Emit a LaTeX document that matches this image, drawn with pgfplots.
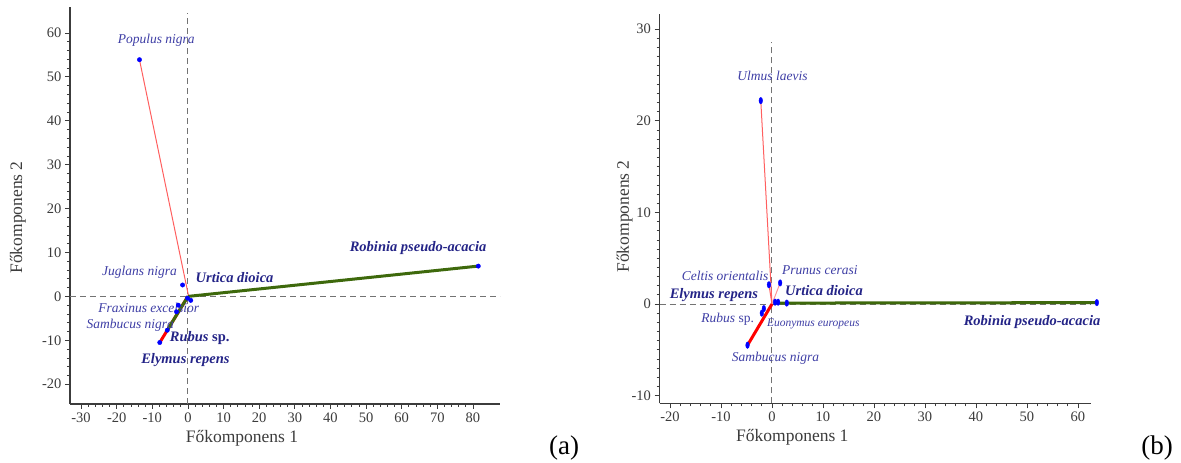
\documentclass[border=0pt]{standalone}
\usepackage{fontspec}
\setmainfont{Liberation Serif}
\usepackage{pgfplots}
\pgfplotsset{compat=1.18}
\definecolor{lbl}{RGB}{62,62,165}
\definecolor{lblb}{RGB}{36,36,135}
\definecolor{thinred}{RGB}{255,95,95}
\definecolor{pinkred}{RGB}{255,150,150}
\definecolor{grn}{RGB}{62,105,12}
\definecolor{axc}{RGB}{60,60,60}
\definecolor{dashc}{RGB}{115,115,115}
\pgfplotsset{
  pca/.style={
    scale only axis, clip=false,
    axis x line=bottom, axis y line=left,
    axis line style={-, draw=axc, line width=1.3pt},
    tick align=outside,
    major tick length=5pt, minor tick length=3pt,
    every tick/.style={axc, line width=0.7pt},
    tick label style={font=\fontsize{14.5}{16}\selectfont, text=axc},
    /pgf/number format/assume math mode=true,
    label style={font=\fontsize{17.5}{19}\selectfont, text=axc},
  },
  dsh/.style={dashc, line width=1pt, dash pattern=on 6pt off 4pt, forget plot},
}
\tikzset{
  lab/.style={font=\fontsize{13.5}{15}\selectfont\itshape, text=lbl, inner sep=0pt},
  labb/.style={font=\fontsize{14.5}{16}\selectfont\bfseries\itshape, text=lblb, inner sep=0pt},
}
\begin{document}
\begin{tikzpicture}[x=1pt,y=1pt]
\path[use as bounding box] (0,0) rectangle (1181,463);
% ---------------- (a) ----------------
\begin{axis}[pca,
  at={(70pt,59pt)}, anchor=south west,
  width=430pt, height=397pt,
  xmin=-33.1, xmax=87.6, ymin=-24.5, ymax=65.9,
  xtick={-30,-20,...,80}, ytick={-20,-10,...,60},
  minor x tick num=4, minor y tick num=4,
  xlabel={Főkomponens 1}, ylabel={Főkomponens 2},
  xlabel style={at={(axis description cs:0.40,-0.086)}, anchor=center},
  ylabel style={at={(axis description cs:-0.121,0.47)}, anchor=center},
]
\addplot[dsh] coordinates {(0,-24.5) (0,64.6)};
\addplot[dsh] coordinates {(-33.1,0) (87.6,0)};
\addplot[thinred, line width=1pt] coordinates {(0.2,0) (-13.6,53.9)};
\addplot[red, line width=3pt] coordinates {(0,0) (-7.9,-10.5)};
\addplot[grn, line width=3pt] coordinates {(0,0) (-5.8,-7.7)};
\addplot[grn, line width=3pt] coordinates {(0,0) (81.5,6.9)};
\addplot[only marks, mark=*, blue, mark size=2.2pt] coordinates {
 (-13.6,53.9) (-1.5,2.6) (81.5,6.9) (0.8,-0.9) (-0.1,-0.4)
 (-2.7,-2.0) (-3.2,-3.5) (-5.8,-7.7) (-7.9,-10.5)};
\node[lab] at (axis cs:-8.9,58.3) {Populus nigra};
\node[lab] at (axis cs:-13.6,5.5) {Juglans nigra};
\node[labb] at (axis cs:13.1,4.4) {Urtica dioica};
\node[labb] at (axis cs:64.6,11.1) {Robinia pseudo-acacia};
\node[lab] at (axis cs:-11.0,-2.7) {Fraxinus excelsior};
\node[lab] at (axis cs:-16.2,-6.6) {Sambucus nigra};
\node[labb] at (axis cs:3.3,-9.4) {Rubus \upshape sp.};
\node[labb] at (axis cs:-0.7,-14.6) {Elymus repens};
\end{axis}
% ---------------- (b) ----------------
\begin{axis}[pca,
  at={(659.5pt,59.7pt)}, anchor=south west,
  width=431.2pt, height=389.3pt,
  xmin=-22.06, xmax=62.5, ymin=-10.84, ymax=31.66,
  xtick={-20,-10,...,60}, ytick={-10,0,...,30},
  minor x tick num=4, minor y tick num=9,
  xlabel={Főkomponens 1}, ylabel={Főkomponens 2},
  xlabel style={at={(axis description cs:0.308,-0.087)}, anchor=center},
  ylabel style={at={(axis description cs:-0.081,0.48)}, anchor=center},
]
\addplot[dsh] coordinates {(0,-10.84) (0,28.6)};
\addplot[dsh] coordinates {(-22.06,0) (62.5,0)};
\addplot[thinred, line width=1pt] coordinates {(0,0) (-2.2,22.2)};
\addplot[thinred, line width=1pt] coordinates {(0,0) (-0.6,2.1)};
\addplot[pinkred, line width=1pt] coordinates {(0,0) (1.6,2.3)};
\addplot[red, line width=3pt] coordinates {(0,0) (-4.8,-4.5)};
\addplot[grn, line width=3pt] coordinates {(0.3,0.1) (63.7,0.15)};
\addplot[only marks, mark=*, blue, mark size=2.6pt, mark options={xscale=0.7,yscale=1.25}] coordinates {
 (-2.2,22.2) (-0.6,2.1) (1.6,2.3) (0.6,0.2) (1.2,0.2) (2.9,0.1)
 (-1.6,-0.5) (-2.0,-1.0) (-4.8,-4.5) (63.7,0.15)};
\node[lab] at (axis cs:0.1,24.9) {Ulmus laevis};
\node[lab] at (axis cs:-9.2,3.1) {Celtis orientalis};
\node[lab] at (axis cs:9.4,3.7) {Prunus cerasi};
\node[labb] at (axis cs:10.2,1.5) {Urtica dioica};
\node[labb] at (axis cs:-11.4,1.0) {Elymus repens};
\node[lab] at (axis cs:-8.7,-1.7) {Rubus \upshape sp.};
\node[lab, font=\fontsize{11.5}{13}\selectfont\itshape] at (axis cs:8.1,-2.2) {Euonymus europeus};
\node[lab] at (axis cs:0.7,-5.9) {Sambucus nigra};
\node[labb] at (axis cs:51.0,-2.0) {Robinia pseudo-acacia};
\end{axis}
\node[font=\fontsize{27}{30}\selectfont] at (564,15) {(a)};
\node[font=\fontsize{27}{30}\selectfont] at (1157,15) {(b)};
\end{tikzpicture}
\end{document}
